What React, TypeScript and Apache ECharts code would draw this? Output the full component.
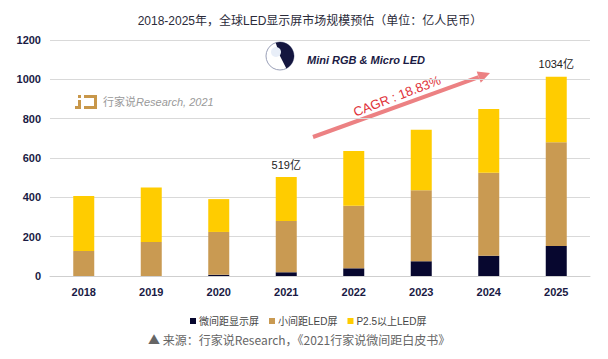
import React, { useEffect, useRef } from "react";
import * as echarts from "echarts";

const years = ["2018", "2019", "2020", "2021", "2022", "2023", "2024", "2025"];
const finePitch = [0, 0, 6, 19, 39, 75, 103, 153];
const smallPitch = [127, 173, 218, 261, 318, 361, 422, 527];
const p25Above = [280, 277, 167, 223, 279, 308, 324, 333];
const totalLabels: (number | null)[] = [null, null, null, 519, null, null, null, 1034];
const seriesNames = ["微间距显示屏", "小间距LED屏", "P2.5以上LED屏"];
const yTicks = { min: 0, max: 1200, interval: 200 };

const FONT = "'Liberation Sans', 'Noto Sans CJK SC', sans-serif";

export default function App() {
  const ref = useRef<HTMLDivElement>(null);
  useEffect(() => {
    if (!ref.current) return;
    const chart = echarts.init(ref.current, null, { renderer: "svg" });
    const x0 = 313, y0 = 137, tx = 490, ty = 73;
    const dx = tx - x0, dy = ty - y0;
    const len = Math.sqrt(dx * dx + dy * dy);
    const ux = dx / len, uy = dy / len;
    const bx = tx - 12 * ux, by = ty - 12 * uy;
    const px = -uy, py = ux;
    chart.setOption({
      animation: false,
      backgroundColor: "#ffffff",
      title: {
        text: "2018-2025年，全球LED显示屏市场规模预估（单位：亿人民币）",
        left: 305,
        textAlign: "center",
        top: 10,
        textStyle: { fontSize: 12, fontWeight: "normal", color: "#2b2b3a", fontFamily: FONT },
      },
      grid: { left: 50, right: 18, top: 40, bottom: 83 },
      legend: {
        left: 185,
        top: 311,
        icon: "rect",
        itemWidth: 6,
        itemHeight: 6,
        itemGap: 10,
        textStyle: { fontSize: 10, color: "#444", fontFamily: FONT, padding: [0, 0, 0, -2] },
        data: seriesNames,
      },
      xAxis: {
        type: "category",
        data: years,
        axisLine: { show: true, lineStyle: { color: "#cfcfcf", width: 1 } },
        axisTick: { show: false },
        axisLabel: { fontSize: 11, fontWeight: "bold", color: "#1a1a44", fontFamily: FONT, margin: 10 },
      },
      yAxis: {
        type: "value",
        min: yTicks.min,
        max: yTicks.max,
        interval: yTicks.interval,
        axisLine: { show: false },
        axisTick: { show: false },
        splitLine: { lineStyle: { color: "#d9d9d9", width: 1 } },
        axisLabel: {
          fontSize: 11,
          fontWeight: "bold",
          color: "#1a1a44",
          fontFamily: FONT,
          margin: 9,
          formatter: (v: number) => String(v),
        },
      },
      series: [
        {
          name: seriesNames[0],
          type: "bar",
          stack: "t",
          barWidth: 21,
          data: finePitch,
          itemStyle: { color: "#07072f" },
        },
        {
          name: seriesNames[1],
          type: "bar",
          stack: "t",
          barWidth: 21,
          data: smallPitch,
          itemStyle: { color: "#c99a52" },
        },
        {
          name: seriesNames[2],
          type: "bar",
          stack: "t",
          barWidth: 21,
          data: p25Above.map((v, i) =>
            totalLabels[i] != null
              ? {
                  value: v,
                  label: {
                    show: true,
                    position: "top",
                    distance: 7,
                    formatter: `${totalLabels[i]}亿`,
                    fontSize: 11,
                    color: "#222",
                    fontFamily: FONT,
                  },
                }
              : v
          ),
          itemStyle: { color: "#ffcc00" },
        },
      ],
      graphic: [
        { type: "rect", shape: { x: 78, y: 95, width: 3, height: 3 }, style: { fill: "#c8974a" } },
        { type: "rect", shape: { x: 78, y: 100, width: 3, height: 9 }, style: { fill: "#c8974a" } },
        { type: "rect", shape: { x: 75, y: 106, width: 4, height: 3 }, style: { fill: "#c8974a" } },
        { type: "rect", shape: { x: 84, y: 95, width: 13, height: 3 }, style: { fill: "#c8974a" } },
        { type: "rect", shape: { x: 94, y: 95, width: 3, height: 14 }, style: { fill: "#c8974a" } },
        { type: "rect", shape: { x: 84, y: 106, width: 13, height: 3 }, style: { fill: "#c8974a" } },
        {
          type: "text",
          x: 103,
          y: 102,
          style: { text: "行家说", font: `11px ${FONT}`, fill: "#9a9a9a", textVerticalAlign: "middle" },
        },
        {
          type: "text",
          x: 136,
          y: 102,
          style: { text: "Research, 2021", font: `italic 11px ${FONT}`, fill: "#9a9a9a", textVerticalAlign: "middle" },
        },
        { type: "circle", shape: { cx: 280, cy: 56, r: 14 }, style: { fill: "#ffffff", stroke: "#9aa0b8", lineWidth: 1 } },
        {
          type: "sector",
          shape: { cx: 280, cy: 56, r: 14, r0: 0, startAngle: -Math.PI * 0.6, endAngle: Math.PI * 0.35 },
          style: { fill: "#14163f" },
        },
        { type: "circle", shape: { cx: 276, cy: 52, r: 5 }, style: { fill: "#e8eef8" } },
        {
          type: "text",
          x: 307,
          y: 60,
          style: {
            text: "Mini RGB & Micro LED",
            font: `italic bold 11px ${FONT}`,
            fill: "#1a1a44",
            textVerticalAlign: "middle",
          },
        },
        { type: "line", shape: { x1: x0, y1: y0, x2: bx, y2: by }, style: { stroke: "#ec8183", lineWidth: 4 } },
        {
          type: "polygon",
          shape: { points: [[tx, ty], [bx + 6 * px, by + 6 * py], [bx - 6 * px, by - 6 * py]] },
          style: { fill: "#ec8183" },
        },
        {
          type: "text",
          x: 397,
          y: 96,
          rotation: (21 * Math.PI) / 180,
          style: {
            text: "CAGR : 18.83%",
            font: `13px ${FONT}`,
            fill: "#e0323a",
            textAlign: "center",
            textVerticalAlign: "middle",
          },
        },
        {
          type: "text",
          x: 148,
          y: 339,
          style: {
            text: "▲ 来源：行家说Research，《2021行家说微间距白皮书》",
            font: `12px 'Noto Sans CJK SC', sans-serif`,
            fill: "#666",
            textVerticalAlign: "middle",
          },
        },
      ],
    });
    return () => chart.dispose();
  }, []);
  return <div ref={ref} style={{ width: 608, height: 359, position: "absolute", left: 0, top: 0 }} />;
}
